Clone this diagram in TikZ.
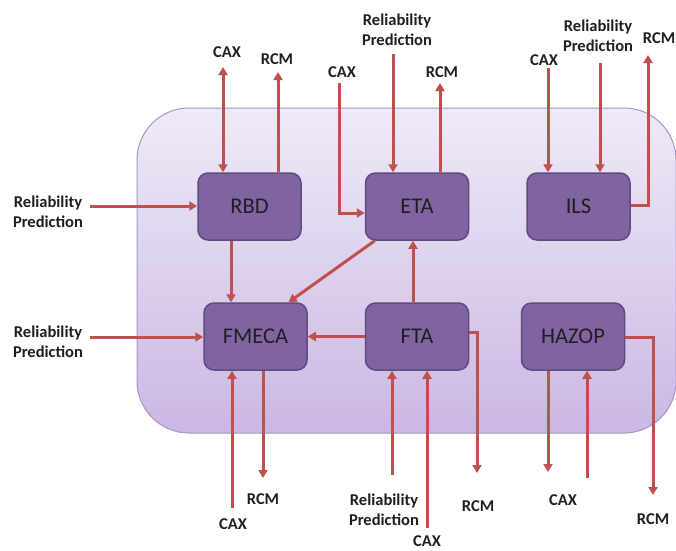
\documentclass[tikz,border=0pt]{standalone}
\usepackage{fontspec}
\setmainfont{Carlito}
\usetikzlibrary{arrows.meta}
\definecolor{arrowred}{HTML}{C0504D}
\definecolor{toolfill}{HTML}{8064A2}
\definecolor{toolline}{HTML}{5F4B80}
\definecolor{paneltop}{HTML}{EFEAF7}
\definecolor{panelbottom}{HTML}{CAB7E3}
\definecolor{panelline}{HTML}{A595C8}
\tikzset{
  tool/.style={draw=toolline, line width=1.5pt, fill=toolfill, rounded corners=10pt,
    minimum width=103pt, minimum height=67pt, inner sep=0pt,
    font=\fontsize{22.5}{26}\selectfont, text=black!88},
  source/.style={font=\bfseries\fontsize{16.5}{19.5}\selectfont, align=center,
    text=black!88, inner sep=0pt},
  flow/.style={draw=arrowred, line width=3pt},
  >={Triangle[length=8pt,width=9pt]}
}
\begin{document}
\begin{tikzpicture}[x=1pt,y=-1pt]
      \useasboundingbox (0,0) rectangle (676,550);

      % panel behind the tools
      \draw[panelline, line width=1pt, top color=paneltop, bottom color=panelbottom,
            rounded corners=52pt] (137,108) rectangle (676,433);

      % tools
      \node[tool] (rbd)   at (249.5,206.5) {RBD};
      \node[tool] (eta)   at (417,206.5)   {ETA};
      \node[tool] (ils)   at (578.5,206.5) {ILS};
      \node[tool] (fmeca) at (255.5,336.5) {FMECA};
      \node[tool] (fta)   at (417,336.5)   {FTA};
      \node[tool] (hazop) at (573,336.5)   {HAZOP};

      % sources and sinks
      \node[source] (rbdcax)   at (227,52)  {CAX};
      \node[source] (rbdrcm)   at (277,59)  {RCM};
      \node[source] (rbdrp)    at (48,212)  {Reliability\\Prediction};
      \node[source] (etacax)   at (342,72)  {CAX};
      \node[source] (etarp)    at (397,30)  {Reliability\\Prediction};
      \node[source] (etarcm)   at (442,72)  {RCM};
      \node[source] (ilscax)   at (544,60)  {CAX};
      \node[source] (ilsrp)    at (598,36)  {Reliability\\Prediction};
      \node[source] (ilsrcm)   at (659,38)  {RCM};
      \node[source] (fmecarp)  at (48,342)  {Reliability\\Prediction};
      \node[source] (fmecacax) at (233,524) {CAX};
      \node[source] (fmecarcm) at (263,499) {RCM};
      \node[source] (ftarp)    at (384,510) {Reliability\\Prediction};
      \node[source] (ftacax)   at (427,541) {CAX};
      \node[source] (ftarcm)   at (478,506) {RCM};
      \node[source] (hazopcax) at (563,500) {CAX};
      \node[source] (hazoprcm) at (653,519) {RCM};

      % free ends of the arrows
      \coordinate (a1)  at (223,67);
      \coordinate (a2)  at (278,72);
      \coordinate (a3)  at (90,206);
      \coordinate (a4)  at (231,0);
      \coordinate (a5)  at (339,83);
      \coordinate (a5b) at (339,213);
      \coordinate (a6)  at (393,54);
      \coordinate (a7)  at (440,83);
      \coordinate (a8)  at (548,68);
      \coordinate (a9)  at (600,63);
      \coordinate (a10) at (648,55);
      \coordinate (a10b) at (648,205);
      \coordinate (a11) at (90,337);
      \coordinate (a12) at (232,508);
      \coordinate (a13) at (263,478);
      \coordinate (a15) at (413,0);
      \coordinate (a17) at (392,475);
      \coordinate (a18) at (427,528);
      \coordinate (a19) at (477,473);
      \coordinate (a19b) at (477,332);
      \coordinate (a20) at (548,472);
      \coordinate (a21) at (587,478);
      \coordinate (a22) at (653,495);
      \coordinate (a22b) at (653,337);

      % top row
      \draw[flow,<->] (a1) -- (a1 |- rbd.north);
      \draw[flow,->] (a2 |- rbd.north) -- (a2);
      \draw[flow,->] (a3) -- (a3 -| rbd.west);
      \draw[flow,->] (a4 |- rbd.south) -- (a4 |- fmeca.north);
      \draw[flow,->] (a5) -- (a5b) -- (a5b -| eta.west);
      \draw[flow,->] (a6) -- (a6 |- eta.north);
      \draw[flow,->] (a7 |- eta.north) -- (a7);
      \draw[flow,->] (eta.219) -- (fmeca.46);
      \draw[flow,->] (a8) -- (a8 |- ils.north);
      \draw[flow,->] (a9) -- (a9 |- ils.north);
      \draw[flow,->] (a10b -| ils.east) -- (a10b) -- (a10);

      % bottom row
      \draw[flow,->] (a11) -- (a11 -| fmeca.west);
      \draw[flow,->] (a12) -- (a12 |- fmeca.south);
      \draw[flow,->] (a13 |- fmeca.south) -- (a13);
      \draw[flow,->] (fta.west) -- (fmeca.east);
      \draw[flow,->] (a15 |- fta.north) -- (a15 |- eta.south);
      \draw[flow,->] (a17) -- (a17 |- fta.south);
      \draw[flow,->] (a18) -- (a18 |- fta.south);
      \draw[flow,->] (a19b -| fta.east) -- (a19b) -- (a19);
      \draw[flow,->] (a20 |- hazop.south) -- (a20);
      \draw[flow,->] (a21) -- (a21 |- hazop.south);
      \draw[flow,->] (a22b -| hazop.east) -- (a22b) -- (a22);
    \end{tikzpicture}
\end{document}
